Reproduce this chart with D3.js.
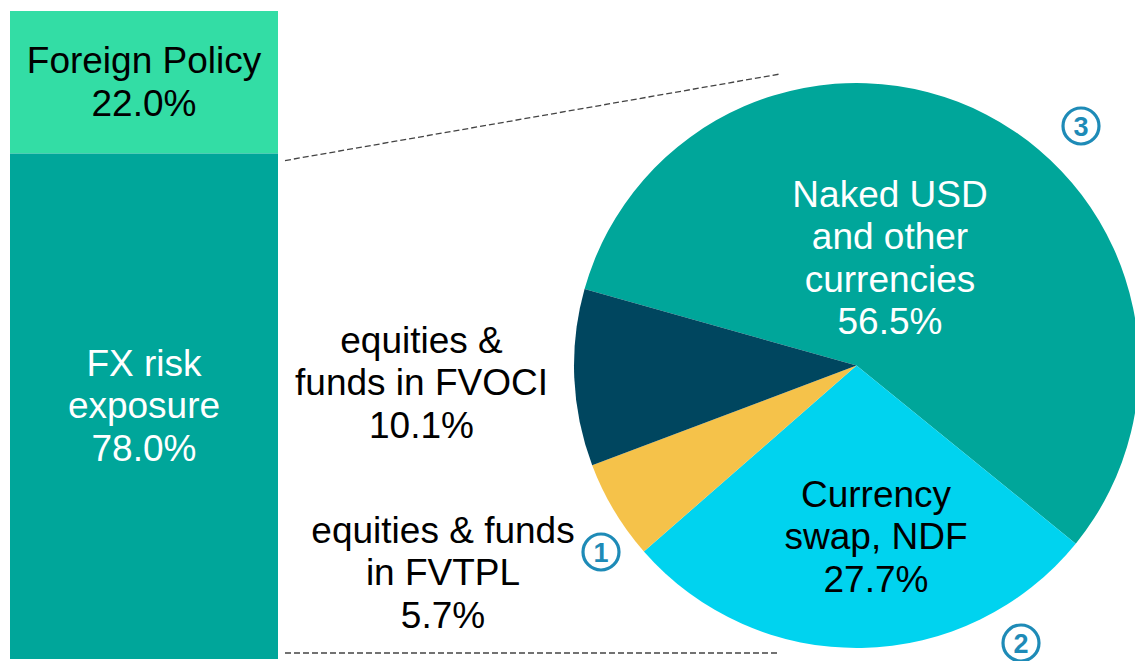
<!DOCTYPE html>
<html>
<head>
<meta charset="utf-8">
<script src="https://cdn.jsdelivr.net/npm/d3@7"></script>
<style>
  body { margin: 0; background: #fff; }
  svg { display: block; font-family: "Liberation Sans", Arial, sans-serif; }
</style>
</head>
<body>
<div id="chart"></div>
<script>
// bar (left) data
const barCategories = ['Foreign Policy', 'FX risk exposure'];
const barValues = [22.0, 78.0];

// pie (right) data, breakdown of FX risk exposure
const pieCategories = ['Naked USD and other currencies', 'Currency swap, NDF', 'equities & funds in FVTPL', 'equities & funds in FVOCI'];
const pieValues = [56.5, 27.7, 5.7, 10.1];
const pieMarkers = ['3', '2', '1', null];

const width = 1135, height = 661;

const svg = d3.select('#chart').append('svg')
    .attr('width', width)
    .attr('height', height);

// ---- stacked bar ----
const y = d3.scaleLinear().domain([0, 100]).range([11, 659]);
const barX = 10, barW = 268;
const barColors = ['#33DDA5', '#00A69A'];
const barText = ['#000', '#fff'];
const barLines = [['Foreign Policy', '22.0%'], ['FX risk', 'exposure', '78.0%']];

let acc = 0;
const barData = barValues.map((v, i) => {
  const d = { cat: barCategories[i], v: v, y0: acc, y1: acc + v, i: i };
  acc += v;
  return d;
});

svg.selectAll('.bar')
    .data(barData)
  .enter().append('rect')
    .attr('class', 'bar')
    .attr('x', barX)
    .attr('width', barW)
    .attr('y', d => y(d.y0))
    .attr('height', d => y(d.y1) - y(d.y0))
    .attr('fill', d => barColors[d.i]);

const fontSize = 37;
const lineH = 42.5;
barData.forEach(d => {
  const lines = barLines[d.i];
  lines[lines.length - 1] = d.v.toFixed(1) + '%';
  const mid = (y(d.y0) + y(d.y1)) / 2;
  const t = svg.append('text')
      .attr('x', barX + barW / 2)
      .attr('y', mid - (lines.length - 1) * lineH / 2 + 12)
      .attr('text-anchor', 'middle')
      .attr('font-size', fontSize)
      .attr('fill', barText[d.i]);
  lines.forEach((l, k) => {
    t.append('tspan').attr('x', barX + barW / 2).attr('dy', k ? lineH : 0).text(l);
  });
});

// ---- connector lines ----
const connectors = [
  [[285, y(barValues[0]) + 7], [780, 74]],
  [[285, 653], [778, 653]]
];
svg.selectAll('.conn')
    .data(connectors)
  .enter().append('line')
    .attr('class', 'conn')
    .attr('x1', d => d[0][0]).attr('y1', d => d[0][1])
    .attr('x2', d => d[1][0]).attr('y2', d => d[1][1])
    .attr('stroke', '#444')
    .attr('stroke-width', 1.3)
    .attr('stroke-dasharray', '6,3');

// ---- pie ----
const cx = 856.5, cy = 365.5, r = 282.5;
const pieColors = ['#00A69A', '#00D3EF', '#F5C24A', '#00465F'];
const startDeg = -74.3;

const pie = d3.pie().sort(null)
    .startAngle(startDeg * Math.PI / 180)
    .endAngle((startDeg + 360) * Math.PI / 180);
const arc = d3.arc().innerRadius(0).outerRadius(r);
const arcs = pie(pieValues);

const g = svg.append('g').attr('transform', `translate(${cx},${cy})`);
g.selectAll('.slice')
    .data(arcs)
  .enter().append('path')
    .attr('class', 'slice')
    .attr('d', arc)
    .attr('fill', (d, i) => pieColors[i]);

// label layout: offset from pie center, line texts, colour
const pieLabelPos = [[33.5, -159], [19.5, 141], [-413.5, 177], [-435, -13]];
const pieLabelLines = [
  ['Naked USD', 'and other', 'currencies'],
  ['Currency', 'swap, NDF'],
  ['equities & funds', 'in FVTPL'],
  ['equities &', 'funds in FVOCI']
];
const pieLabelColor = ['#fff', '#000', '#000', '#000'];

arcs.forEach((d, i) => {
  const lines = pieLabelLines[i].concat([pieValues[i].toFixed(1) + '%']);
  const p = pieLabelPos[i];
  const t = g.append('text')
      .attr('x', p[0]).attr('y', p[1])
      .attr('text-anchor', 'middle')
      .attr('font-size', fontSize)
      .attr('fill', pieLabelColor[i]);
  lines.forEach((l, k) => {
    t.append('tspan').attr('x', p[0]).attr('dy', k ? lineH : 0).text(l);
  });
});

// numbered markers
const markerPos = [[224.5, -239.5], [164.5, 277.5], [-255.5, 186.5], null];
arcs.forEach((d, i) => {
  if (!pieMarkers[i]) return;
  const m = g.append('g').attr('transform', `translate(${markerPos[i][0]},${markerPos[i][1]})`);
  m.append('circle').attr('r', 18).attr('fill', '#fff')
      .attr('stroke', '#1E8BB7').attr('stroke-width', 3.2);
  m.append('text').attr('text-anchor', 'middle').attr('dy', 9.5)
      .attr('font-size', 27).attr('font-weight', 'bold')
      .attr('fill', '#1E8BB7').text(pieMarkers[i]);
});
</script>
</body>
</html>
